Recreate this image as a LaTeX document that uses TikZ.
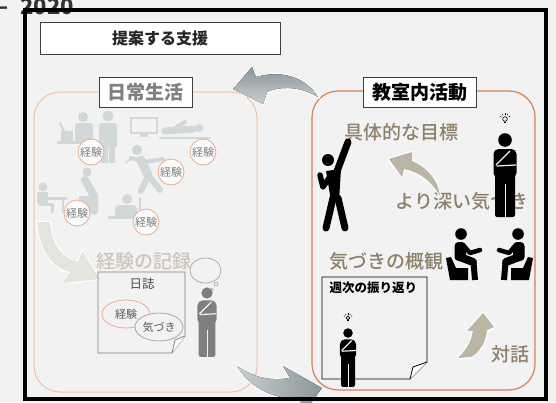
\documentclass[tikz,border=0pt]{standalone}
\usepackage{fontspec}
\setmainfont{Noto Sans CJK JP}
\newfontfamily\jpmed{Noto Sans CJK JP Medium}
\usetikzlibrary{shapes.geometric,decorations.pathmorphing}

\definecolor{bgc}{HTML}{F2F2F2}
\definecolor{lifeorange}{HTML}{EFC3A9}
\definecolor{classorange}{HTML}{D9814E}
\definecolor{bubbleorange}{HTML}{E8AC8E}
\definecolor{softtext}{HTML}{808080}
\definecolor{fadetext}{HTML}{CCC6B9}
\definecolor{earth}{HTML}{8C8069}
\definecolor{earthlight}{HTML}{BAB6A3}
\definecolor{fadefig}{HTML}{D2D7D7}
\definecolor{midfig}{HTML}{7F7F7F}
\definecolor{arrowdark}{HTML}{8A979B}
\definecolor{arrowlight}{HTML}{C8CED0}
\definecolor{fadearrow}{HTML}{E5E4DE}

\tikzset{
  figcol/.store in=\figcol, figcol=black,
  % standing figure, hand at the chin
  thinker/.pic={
    \fill[\figcol] (0,0) circle[radius=6.8];
    \fill[\figcol, rounded corners=5pt] (-11.5,9) rectangle (11.5,38);
    \fill[\figcol, rounded corners=2pt] (-10,34) rectangle (10,77);
    \draw[bgc, line width=1pt] (0,44) -- (0,78);
    \draw[bgc, line width=1.2pt, line cap=round] (-9,25) -- (5,11);
    \draw[bgc, line width=1.2pt, line cap=round] (-8,26) -- (11,25);
  },
  bulb/.pic={
    \draw[\figcol, line width=0.6pt] (0,0) circle[radius=2.3];
    \draw[\figcol, line width=0.8pt] (-1.2,3.4) -- (1.2,3.4);
    \foreach \a in {-30,-60,-90,-120,-150}
      \draw[\figcol, line width=0.5pt] (\a:4.2) -- (\a:6);
  },
  % seated figure facing right
  sitter/.pic={
    \fill[\figcol] (0,0) circle[radius=5.8];
    \fill[\figcol, rounded corners=4pt] (-6.5,8) rectangle (5,27);
    \draw[\figcol, line width=8pt, line cap=round] (-1,23) -- (12,28);
    \draw[\figcol, line width=6pt] (12.5,28) -- (14,46);
    \draw[\figcol, line width=4.5pt, line cap=round, line join=round] (3,12) -- (9,19) -- (19,16);
    \fill[\figcol] (-15,24) -- (-10,23) -- (-5,34) -- (7,34) -- (7,46) -- (-11,46) -- cycle;
  },
  rough/.style={draw=white, line width=2pt, decorate,
    decoration={random steps, segment length=2pt, amplitude=0.9pt}},
  tagbox/.style={draw=black!75, fill=white, line width=0.8pt, inner sep=0pt,
    minimum height=30pt, font=\bfseries\fontsize{19}{19}\selectfont},
}

\begin{document}
\begin{tikzpicture}[x=1pt, y=-1pt]

  \useasboundingbox (0,0) rectangle (556,402);
  \fill[bgc] (0,0) rectangle (556,402);

  \node[anchor=base east, inner sep=0pt, text=black!80, font=\bfseries\fontsize{22}{22}\selectfont] (year) at (74,14) {–\hspace{0.55em}2020};

  \node[draw=black!75, fill=white, line width=0.8pt, minimum width=240pt, minimum height=32pt,
        text=black!85, font=\bfseries\fontsize{16}{16}\selectfont] (support) at (160,38) {提案する支援};

  % the two panels
  \draw[lifeorange, line width=1pt, rounded corners=26pt] (34,92) rectangle (257,392);
  \draw[classorange, line width=1.2pt, rounded corners=26pt] (312,91) rectangle (535,390);

  % everyday scenes
  \begin{scope}[fadefig, line cap=round, line join=round]
    \fill (83,117) circle[radius=5];
    \fill[rounded corners=3pt] (75,123) rectangle (93,142);
    \fill (57,141) rectangle (96,144);
    \fill (61,131) rectangle (73,141);
    \draw[line width=2pt] (60,123) -- (64,131);

    \fill (108,116) circle[radius=5.5];
    \fill[rounded corners=3pt] (99,123) rectangle (117,148);
    \fill (101,146) rectangle (107.5,163);
    \fill (109,146) rectangle (115,163);

    \draw[line width=2pt] (131,118) rectangle (157,133);
    \fill (140,134) rectangle (148,137);

    \fill (199,128) circle[radius=4];
    \draw[line width=7pt] (165,131) -- (193,129);
    \draw[line width=2.5pt] (160,138) -- (210,138);
    \draw[line width=4pt] (175,128) -- (185,122);

    \fill (137,150) circle[radius=5];
    \draw[line width=9pt] (141,160) -- (148,175);
    \draw[line width=6pt] (148,176) -- (141,191);
    \draw[line width=6pt] (149,176) -- (160,190);
    \draw[line width=4pt] (143,161) -- (131,158);
    \draw[line width=4pt] (145,162) -- (163,159);
    \draw[line width=1.5pt] (131,158) -- (126,163);

    \fill (87,172) circle[radius=4.5];
    \draw[line width=8pt] (85,180) -- (94,196) -- (94,211);
    \fill (79,196) rectangle (91,210);

    \fill (43,187) circle[radius=4.5];
    \fill[rounded corners=2pt] (37,192) rectangle (48,204);
    \draw[line width=3pt] (48,198) -- (66,198);
    \draw[line width=1.5pt] (63,198) -- (63,212);
    \draw[line width=3pt] (40,204) -- (52,204) -- (52,212);

    \fill (127,199) circle[radius=5];
    \fill[rounded corners=4pt] (115,205) rectangle (137,218);
    \fill (108,216) rectangle (142,219);
    \draw[line width=1.5pt] (140,198) -- (140,210);
  \end{scope}

  \begin{scope}[every node/.style={circle, draw=bubbleorange, fill=white!60!bgc, line width=0.8pt,
      minimum size=26pt, inner sep=0pt, text=softtext, font=\fontsize{11}{11}\selectfont}]
    \node (exp1) at (91,152) {経験};
    \node (exp2) at (203,152) {経験};
    \node (exp3) at (171,172) {経験};
    \node (exp4) at (77,213) {経験};
    \node (exp5) at (146,222) {経験};
  \end{scope}

  % faded arrow down to the diary
  \fill[fadearrow, preaction={rough}] (37,222) .. controls (40,250) and (52,268) .. (70,272)
    -- (62,283) -- (100,279) -- (82,251) -- (78,262) .. controls (62,258) and (52,245) .. (50,222) -- cycle;

  \node[text=fadetext, font=\jpmed\fontsize{19}{19}\selectfont] (record) at (144,261) {経験の記録};

  % diary sheet
  \draw[midfig, line width=0.8pt, fill=bgc] (98,272) -- (185,272) -- (185,336) -- (172,353) -- (98,353) -- cycle;
  \filldraw[midfig, fill=white, line width=0.8pt] (185,336) -- (175,340) .. controls (174,346) .. (172,353);
  \node[text=black!70, font=\fontsize{12.5}{12.5}\selectfont] (diary) at (142,284) {日誌};
  \begin{scope}[every node/.style={ellipse, fill=bgc, line width=0.8pt, minimum width=48pt,
      minimum height=28pt, inner sep=0pt, text=black!65, font=\fontsize{11}{11}\selectfont}]
    \node[draw=bubbleorange] (memo1) at (126,314) {経験};
    \node[draw=black!35] (memo2) at (159,327) {気づき};
  \end{scope}

  \node[ellipse, draw=black!35, line width=0.7pt, minimum width=31pt, minimum height=25pt] (thought) at (205.5,270.5) {};
  \draw[black!35, line width=0.6pt] (216,284) circle[radius=2];
  \draw[black!35, line width=0.6pt] (212,289.5) circle[radius=1.2];
  \pic[figcol=midfig, scale=0.83] at (207,293) {thinker};

  % classroom side
  \begin{scope}[every node/.style={text=earth, font=\jpmed\fontsize{19}{19}\selectfont}]
    \node (goal) at (401,132) {具体的な目標};
    \node (deeper) at (462,201) {より深い気づき};
    \node (overview) at (386,261) {気づきの概観};
    \node (talk) at (510,354) {対話};
  \end{scope}

  \begin{scope}[black, line cap=round, line join=round]
    \fill (328,160) circle[radius=6];
    \draw[line width=7pt] (336,174) -- (348,142);
    \fill (326,171) -- (341,169) -- (339,201) -- (331,201) -- cycle;
    \draw[line width=5.5pt] (329,178) -- (323,187) -- (320,175);
    \draw[line width=7pt] (333,198) -- (326,228);
    \draw[line width=7pt] (338,198) -- (345,228);
  \end{scope}

  \pic at (505,140) {thinker};
  \pic at (505,119) {bulb};

  \pic at (461,234) {sitter};
  \pic[xscale=-1] at (518,234) {sitter};

  % weekly sheet
  \draw[black, line width=0.8pt, fill=bgc] (322,277) -- (427,277) -- (427,362) -- (410,379) -- (322,379) -- cycle;
  \filldraw[black, fill=white, line width=0.8pt] (427,362) -- (413,367) .. controls (412,373) .. (410,379);
  \node[anchor=west, text=black, font=\bfseries\fontsize{12.5}{12.5}\selectfont] (weekly) at (326,288) {週次の振り返り};
  \pic[scale=0.7] at (348,333) {thinker};
  \pic[scale=0.8] at (348,318) {bulb};

  \fill[earthlight, preaction={rough}] (440,196) .. controls (438,180) and (428,168) .. (412,161)
    -- (412,152) -- (389,159) -- (402,177) -- (404,169) .. controls (420,172) and (432,182) .. (440,196) -- cycle;
  \fill[earthlight, preaction={rough}] (458,358) .. controls (466,350) and (471,342) .. (473,331)
    -- (467,331) -- (483,313) -- (494,327) -- (487,330) .. controls (486,342) and (480,352) .. (471,357) -- cycle;

  % arrows between the panels
  \fill[top color=arrowdark, bottom color=arrowlight, preaction={rough}] (233,89) -- (252,67) -- (256,77)
    .. controls (280,70) and (305,76) .. (318,97) .. controls (300,86) and (280,86) .. (267,92)
    -- (263,104) -- cycle;
  \fill[left color=arrowlight, right color=arrowdark, preaction={rough}] (237,366)
    .. controls (255,378) and (270,381) .. (290,378) -- (283,366) -- (322,388) -- (306,410)
    -- (298,398) .. controls (275,400) and (250,388) .. (237,366) -- cycle;

  \node[tagbox, text=softtext, minimum width=93pt] (life) at (145.5,92) {日常生活};
  \node[tagbox, text=black, minimum width=113pt] (class) at (419.5,92) {教室内活動};

  \draw[black, line width=4pt] (25,10) rectangle (546,399);

\end{tikzpicture}
\end{document}
